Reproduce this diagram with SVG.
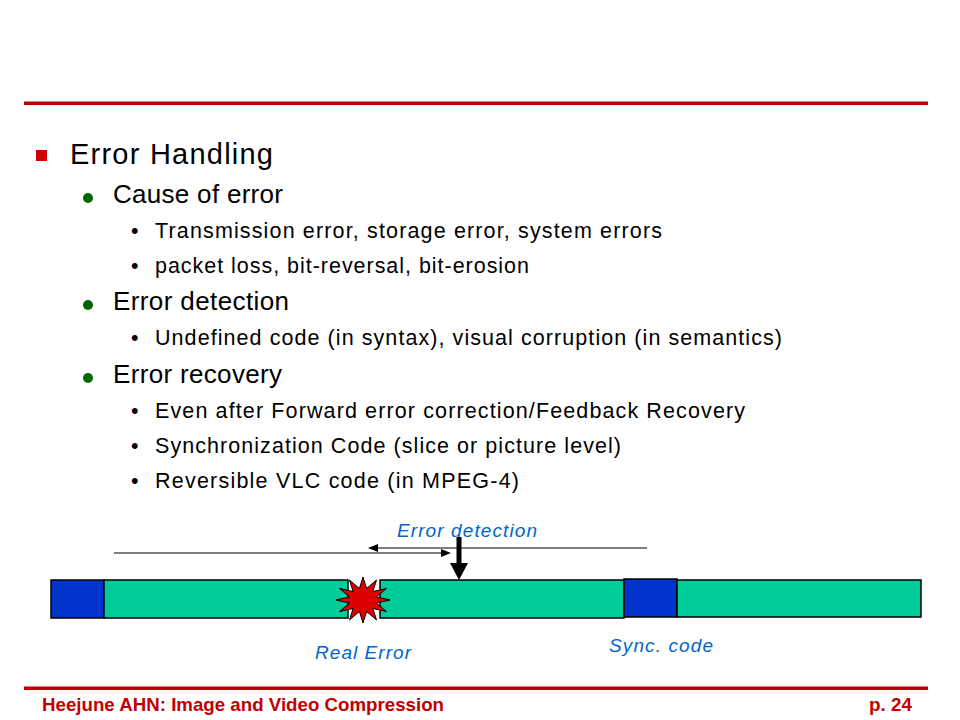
<svg xmlns="http://www.w3.org/2000/svg" width="960" height="720" viewBox="0 0 960 720">
<defs>
<style>
.t{font-family:"Liberation Sans",Arial,sans-serif;fill:#000}
.l1{font-size:29px}
.l2{font-size:26px}
.l3{font-size:21.5px}
.lbl{font-family:"Liberation Sans",Arial,sans-serif;font-size:19px;font-style:italic;fill:#0066cc}
.ft{font-family:"Liberation Sans",Arial,sans-serif;font-size:19px;font-weight:bold;fill:#c00000}
.grn{fill:#00cc99;stroke:#000;stroke-width:1.5}
.blu{fill:#0033cc;stroke:#000;stroke-width:1.5}
.thin{stroke:#000;stroke-width:1.2;fill:none}
</style>
</defs>
<rect width="960" height="720" fill="#fff"/>
<g id="rules">
<rect x="24" y="101.5" width="904" height="3.5" fill="#c00000"/>
<rect x="24" y="686.5" width="904" height="3.5" fill="#c00000"/>
</g>
<g id="text">
<rect x="36" y="150" width="11" height="11" fill="#cc0000"/>
<text class="t l1" x="70" y="164" textLength="203">Error Handling</text>
<circle cx="88" cy="198" r="5" fill="#006600"/>
<text class="t l2" x="113" y="203" textLength="170">Cause of error</text>
<text class="t l3" x="131" y="238">•</text>
<text class="t l3" x="155" y="238" textLength="507">Transmission error, storage error, system errors</text>
<text class="t l3" x="131" y="273">•</text>
<text class="t l3" x="155" y="273" textLength="374">packet loss, bit-reversal, bit-erosion</text>
<circle cx="88" cy="305" r="5" fill="#006600"/>
<text class="t l2" x="113" y="310" textLength="176">Error detection</text>
<text class="t l3" x="131" y="345">•</text>
<text class="t l3" x="155" y="345" textLength="627">Undefined code (in syntax), visual corruption (in semantics)</text>
<circle cx="88" cy="378" r="5" fill="#006600"/>
<text class="t l2" x="113" y="383" textLength="169">Error recovery</text>
<text class="t l3" x="131" y="418">•</text>
<text class="t l3" x="155" y="418" textLength="590">Even after Forward error correction/Feedback Recovery</text>
<text class="t l3" x="131" y="453">•</text>
<text class="t l3" x="155" y="453" textLength="466">Synchronization Code (slice or picture level)</text>
<text class="t l3" x="131" y="488">•</text>
<text class="t l3" x="155" y="488" textLength="364">Reversible VLC code (in MPEG-4)</text>
</g>
<g id="bitstream">
<rect id="sync1" class="blu" x="51" y="580" width="53" height="38"/>
<rect id="seg1" class="grn" x="104" y="580" width="244" height="38"/>
<rect id="seg2" class="grn" x="380" y="580" width="244" height="38"/>
<rect id="sync2" class="blu" x="624" y="579" width="53" height="38"/>
<rect id="seg3" class="grn" x="677" y="580" width="244" height="37"/>
</g>
<g id="error-star">
<polygon fill="#dd0000" stroke="#000" stroke-width="1" points="363,577 366.6,588.4 376.5,580.1 372.9,591.5 386.4,588.5 376.5,596.9 390,600 376.5,603.1 386.4,611.5 372.9,608.5 376.5,619.9 366.6,611.6 363,623 359.4,611.6 349.5,619.9 353.1,608.5 339.6,611.5 349.5,603.1 336,600 349.5,596.9 339.6,588.5 353.1,591.5 349.5,580.1 359.4,588.4"/>
</g>
<g id="connectors">
<line class="thin" x1="114" y1="553" x2="443" y2="553"/>
<polygon points="451,553 441,549 441,557" fill="#000"/>
<line class="thin" x1="376" y1="548" x2="647" y2="548"/>
<polygon points="368,548 378,544 378,552" fill="#000"/>
<rect x="456.5" y="537" width="5" height="27" fill="#000"/>
<polygon points="450,563 468,563 459,580" fill="#000"/>
</g>
<g id="labels">
<text class="lbl" x="397" y="537" textLength="140">Error detection</text>
<text class="lbl" x="315" y="659" textLength="96">Real Error</text>
<text class="lbl" x="609" y="652" textLength="104">Sync. code</text>
</g>
<g id="footer">
<text class="ft" x="42" y="711" textLength="402" lengthAdjust="spacingAndGlyphs">Heejune AHN: Image and Video Compression</text>
<text class="ft" x="912" y="711" text-anchor="end" textLength="43" lengthAdjust="spacingAndGlyphs">p. 24</text>
</g>
</svg>
